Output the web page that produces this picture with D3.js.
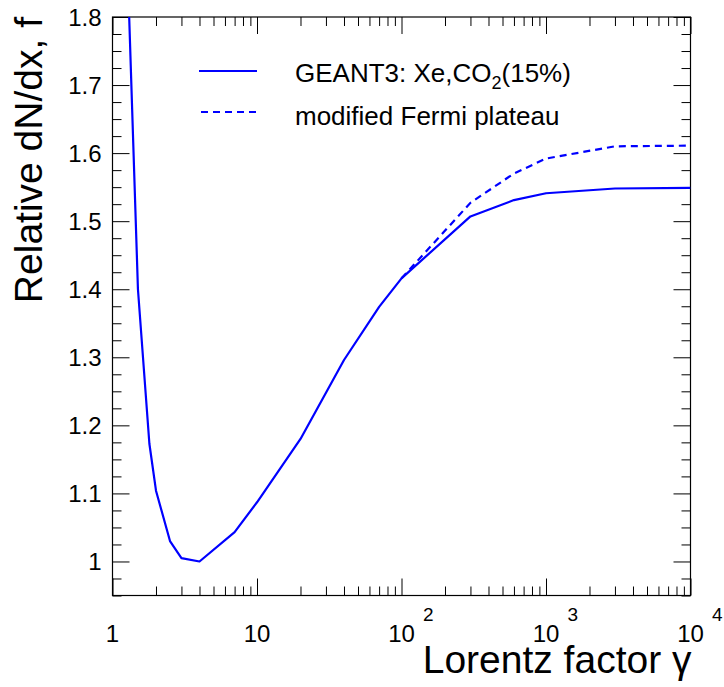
<!DOCTYPE html>
<html>
<head>
<meta charset="utf-8">
<script src="https://cdn.jsdelivr.net/npm/d3@7"></script>
<style>
  body { margin: 0; background: #fff; }
  text { font-family: "Liberation Sans", Arial, sans-serif; fill: #000; }
</style>
</head>
<body>
<svg id="chart" width="724" height="687"></svg>
<script>
// ---- data ----
const gammaSolid = [1.3, 1.5, 1.8, 2, 2.5, 3, 4, 7, 10, 20, 40, 70, 100, 300, 600, 1000, 3000, 10000];
const fSolid     = [1.81, 1.40, 1.173, 1.104, 1.030, 1.005, 1.000, 1.043, 1.087, 1.180, 1.296, 1.374, 1.416, 1.507, 1.531, 1.541, 1.548, 1.549];
const gammaFermi = [100, 300, 600, 1000, 3000, 10000];
const fFermi     = [1.416, 1.527, 1.570, 1.592, 1.610, 1.611];
const yTickLabels = [1, 1.1, 1.2, 1.3, 1.4, 1.5, 1.6, 1.7, 1.8];
const xTickValues = [1, 10, 100, 1000, 10000];
const legendLabels = ["GEANT3: Xe,CO", "modified Fermi plateau"];
const xTitle = "Lorentz factor \u03b3";
const yTitle = "Relative dN/dx, f";

// ---- layout ----
const L = 112.5, R = 690.5, T = 17, B = 595.5;
const svg = d3.select("#chart");
const x = d3.scaleLog().domain([1, 1e4]).range([L, R]);
const y = d3.scaleLinear().domain([0.95, 1.8]).range([B, T]);

// minor tick values
const xMinor = [];
for (let d = 1; d < 1e4; d *= 10) for (let k = 2; k <= 9; k++) xMinor.push(d * k);
const yMinor = d3.range(0, 35).map(i => 0.95 + i * 0.025).filter(v => v <= 1.8001 && Math.abs(Math.round(v * 10) - v * 10) > 0.01);

function axisG(gen, tx, ty) {
  const g = svg.append("g").attr("transform", `translate(${tx},${ty})`).call(gen);
  g.select(".domain").remove();
  g.selectAll("text").remove();
  g.selectAll("line").attr("stroke", "#000").attr("stroke-width", 1);
  return g;
}
// bottom
axisG(d3.axisBottom(x).tickValues(xTickValues).tickSize(-17), 0, B);
axisG(d3.axisBottom(x).tickValues(xMinor).tickSize(-9), 0, B);
// top
axisG(d3.axisTop(x).tickValues(xTickValues).tickSize(-17), 0, T);
axisG(d3.axisTop(x).tickValues(xMinor).tickSize(-9), 0, T);
// left
axisG(d3.axisLeft(y).tickValues(yTickLabels).tickSize(-17), L, 0);
axisG(d3.axisLeft(y).tickValues(yMinor).tickSize(-9), L, 0);
// right
axisG(d3.axisRight(y).tickValues(yTickLabels).tickSize(-17), R, 0);
axisG(d3.axisRight(y).tickValues(yMinor).tickSize(-9), R, 0);

// frame
svg.append("rect").attr("x", L).attr("y", T).attr("width", R - L).attr("height", B - T)
  .attr("fill", "none").attr("stroke", "#000").attr("stroke-width", 1.2);

// y tick labels
svg.append("g").selectAll("text").data(yTickLabels).join("text")
  .attr("x", L - 11).attr("y", d => y(d)).attr("dy", "0.36em")
  .attr("text-anchor", "end").attr("font-size", 24)
  .text(d => d3.format("~g")(d));

// x tick labels
const xl = svg.append("g");
xTickValues.forEach(v => {
  const e = Math.round(Math.log10(v));
  if (e <= 1) {
    xl.append("text").attr("x", x(v)).attr("y", 642).attr("text-anchor", "middle")
      .attr("font-size", 24).text(String(v));
  } else {
    const t = xl.append("text").attr("x", x(v) - 13.3).attr("y", 642).attr("font-size", 24);
    t.append("tspan").text("10");
    t.append("tspan").attr("dx", 8).attr("dy", -21).attr("font-size", 19).text(String(e));
  }
});

// titles
svg.append("text").attr("x", R + 1).attr("y", 673).attr("text-anchor", "end")
  .attr("font-size", 39).text(xTitle);
svg.append("text").attr("transform", `translate(42,${T}) rotate(-90)`).attr("text-anchor", "end")
  .attr("font-size", 39).text(yTitle);

// clip
svg.append("clipPath").attr("id", "clip").append("rect")
  .attr("x", L).attr("y", T).attr("width", R - L).attr("height", B - T);

const line = d3.line().x(d => x(d[0])).y(d => y(d[1]));
svg.append("path").datum(gammaSolid.map((g, i) => [g, fSolid[i]]))
  .attr("clip-path", "url(#clip)").attr("d", line)
  .attr("fill", "none").attr("stroke", "#0000ff").attr("stroke-width", 2.2).attr("stroke-linejoin", "round");
svg.append("path").datum(gammaFermi.map((g, i) => [g, fFermi[i]]))
  .attr("clip-path", "url(#clip)").attr("d", line)
  .attr("fill", "none").attr("stroke", "#0000ff").attr("stroke-width", 2.2).attr("stroke-dasharray", "7,5");

// legend
svg.append("line").attr("x1", 199).attr("x2", 257).attr("y1", 71).attr("y2", 71)
  .attr("stroke", "#0000ff").attr("stroke-width", 2.2);
svg.append("line").attr("x1", 201).attr("x2", 257).attr("y1", 112).attr("y2", 112)
  .attr("stroke", "#0000ff").attr("stroke-width", 2.2).attr("stroke-dasharray", "7,5");
const t1 = svg.append("text").attr("x", 295).attr("y", 82).attr("font-size", 26);
t1.append("tspan").text(legendLabels[0]);
t1.append("tspan").attr("font-size", 18).attr("dy", 7).text("2");
t1.append("tspan").attr("dy", -7).text("(15%)");
svg.append("text").attr("x", 295).attr("y", 125).attr("font-size", 26).text(legendLabels[1]);
</script>
</body>
</html>
